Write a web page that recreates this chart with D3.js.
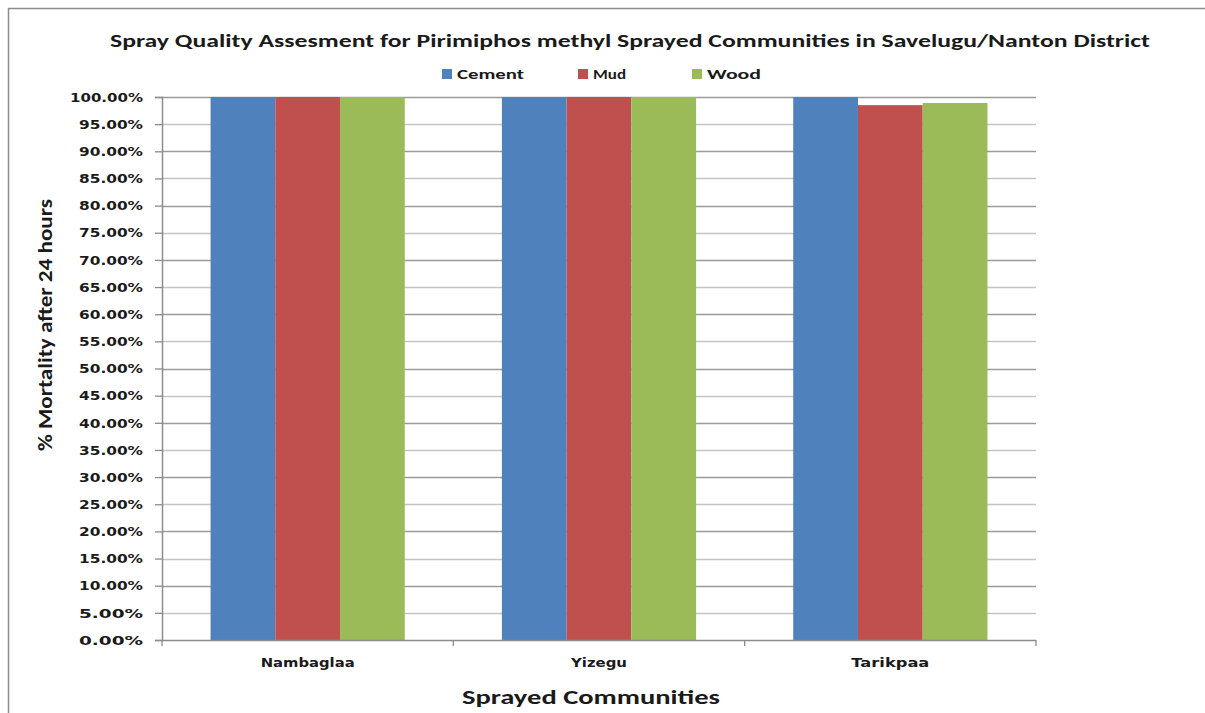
<!DOCTYPE html>
<html>
<head>
<meta charset="utf-8">
<script src="https://cdn.jsdelivr.net/npm/d3@7"></script>
<style>
  html, body { margin: 0; padding: 0; background: #fff; }
  svg { display: block; }
</style>
</head>
<body>
<svg id="chart" width="1205" height="713"></svg>
<script>
// Spray quality assessment data (% mortality after 24 hours)
const communities = ["Nambaglaa", "Yizegu", "Tarikpaa"];
const surfaces = ["Cement", "Mud", "Wood"];
const cementValues = [100, 100, 100];
const mudValues = [100, 100, 98.5];
const woodValues = [100, 100, 98.9];
const yTicks = d3.range(0, 100.001, 5);
const surfaceColors = ["#4f81bd", "#c0504d", "#9bbb59"];

const seriesValues = [cementValues, mudValues, woodValues];
const rows = communities.map((c, i) => ({
  community: c,
  values: surfaces.map((s, j) => ({ surface: s, value: seriesValues[j][i] }))
}));

const svg = d3.select("#chart");
const plot = { left: 162, right: 1036, top: 97, bottom: 640 };

// Outer frame (top and left edges)
svg.append("line").attr("x1", 8).attr("x2", 1205).attr("y1", 8.5).attr("y2", 8.5)
  .attr("stroke", "#8c8c8c").attr("stroke-width", 1.5);
svg.append("line").attr("x1", 8.5).attr("x2", 8.5).attr("y1", 8).attr("y2", 713)
  .attr("stroke", "#8c8c8c").attr("stroke-width", 1.5);

const x0 = d3.scaleBand().domain(communities).range([plot.left, plot.right]).paddingInner(0).paddingOuter(0);
const x1 = d3.scaleBand().domain(surfaces).range([0, x0.bandwidth()]).paddingInner(0).paddingOuter(0.75);
const y = d3.scaleLinear().domain([0, 100]).range([plot.bottom, plot.top]);
const color = d3.scaleOrdinal().domain(surfaces).range(surfaceColors);

// Gridlines
svg.append("g").selectAll("line").data(yTicks.filter(t => t > 0)).join("line")
  .attr("x1", plot.left).attr("x2", plot.right)
  .attr("y1", d => Math.round(y(d)) + 0.5).attr("y2", d => Math.round(y(d)) + 0.5)
  .attr("stroke", (d, i) => (Math.round(d) % 10 === 0 ? "#9a9a9a" : "#c4c4c4"))
  .attr("stroke-width", 1.3);

// Bars
const groups = svg.append("g").selectAll("g").data(rows).join("g")
  .attr("transform", d => `translate(${x0(d.community)},0)`);
groups.selectAll("rect").data(d => d.values).join("rect")
  .attr("x", d => x1(d.surface))
  .attr("width", x1.bandwidth())
  .attr("y", d => y(d.value))
  .attr("height", d => y(0) - y(d.value))
  .attr("fill", d => color(d.surface));

// Y axis
const yAxis = svg.append("g").attr("transform", `translate(${plot.left},0)`)
  .call(d3.axisLeft(y).tickValues(yTicks).tickSize(7).tickPadding(5)
    .tickFormat(d => d.toFixed(2) + "%"));
yAxis.select(".domain").attr("stroke", "#8c8c8c").attr("stroke-width", 1.5);
yAxis.selectAll(".tick line").attr("stroke", "#8c8c8c").attr("stroke-width", 1.3);
yAxis.selectAll(".tick text")
  .attr("font-family", "'DejaVu Sans', Verdana, sans-serif")
  .attr("font-size", 12).attr("font-weight", "bold").attr("fill", "#1a1a1a")
  .attr("dx", -7).attr("dy", "0.35em")
  .each(function () {
    const t = d3.select(this).text();
    d3.select(this).attr("textLength", t.length === 7 ? 73 : 64).attr("lengthAdjust", "spacingAndGlyphs");
  });

// X axis
const xAxis = svg.append("g").attr("transform", `translate(0,${plot.bottom})`)
  .call(d3.axisBottom(x0).tickSize(0).tickPadding(18));
xAxis.select(".domain").attr("stroke", "#8c8c8c").attr("stroke-width", 1.5)
  .attr("d", `M${plot.left},0.5H${plot.right}`);
const xLabelW = { Nambaglaa: 94, Yizegu: 56, Tarikpaa: 78 };
xAxis.selectAll(".tick text")
  .attr("font-family", "'DejaVu Sans', Verdana, sans-serif")
  .attr("font-size", 13).attr("font-weight", "bold").attr("fill", "#1a1a1a")
  .attr("textLength", d => xLabelW[d]).attr("lengthAdjust", "spacingAndGlyphs");
// Category separators below the axis
svg.append("g").selectAll("line")
  .data(communities.map(c => x0(c)).concat([plot.right])).join("line")
  .attr("x1", d => d).attr("x2", d => d)
  .attr("y1", plot.bottom).attr("y2", plot.bottom + 6)
  .attr("stroke", "#8c8c8c").attr("stroke-width", 1.3);

const font = "Carlito, 'Liberation Sans Narrow', 'Open Sans', sans-serif";

// Title
svg.append("text").attr("x", 630).attr("y", 47).attr("text-anchor", "middle")
  .attr("font-family", font).attr("font-size", 17).attr("font-weight", "bold")
  .attr("fill", "#1a1a1a").attr("textLength", 1040).attr("lengthAdjust", "spacingAndGlyphs")
  .text("Spray Quality Assesment for Pirimiphos methyl Sprayed Communities in Savelugu/Nanton District");

// Legend
const legendX = [442, 578, 692];
const legendW = [67, 33, 54];
const legend = svg.append("g").selectAll("g").data(surfaces).join("g")
  .attr("transform", (d, i) => `translate(${legendX[i]},69)`);
legend.append("rect").attr("width", 10).attr("height", 10).attr("fill", d => color(d));
legend.append("text").attr("x", 15).attr("y", 10)
  .attr("font-family", font).attr("font-size", 14).attr("font-weight", "bold")
  .attr("fill", "#1a1a1a")
  .attr("textLength", (d, i) => legendW[i]).attr("lengthAdjust", "spacingAndGlyphs")
  .text(d => d);

// Axis titles
svg.append("text").attr("transform", "translate(52,325) rotate(-90)")
  .attr("text-anchor", "middle")
  .attr("font-family", font).attr("font-size", 21).attr("font-weight", "bold")
  .attr("fill", "#1a1a1a").attr("textLength", 252).attr("lengthAdjust", "spacingAndGlyphs")
  .text("% Mortality after 24 hours");
svg.append("text").attr("x", 591).attr("y", 704).attr("text-anchor", "middle")
  .attr("font-family", font).attr("font-size", 20).attr("font-weight", "bold")
  .attr("fill", "#1a1a1a").attr("textLength", 258).attr("lengthAdjust", "spacingAndGlyphs")
  .text("Sprayed Communities");
</script>
</body>
</html>
